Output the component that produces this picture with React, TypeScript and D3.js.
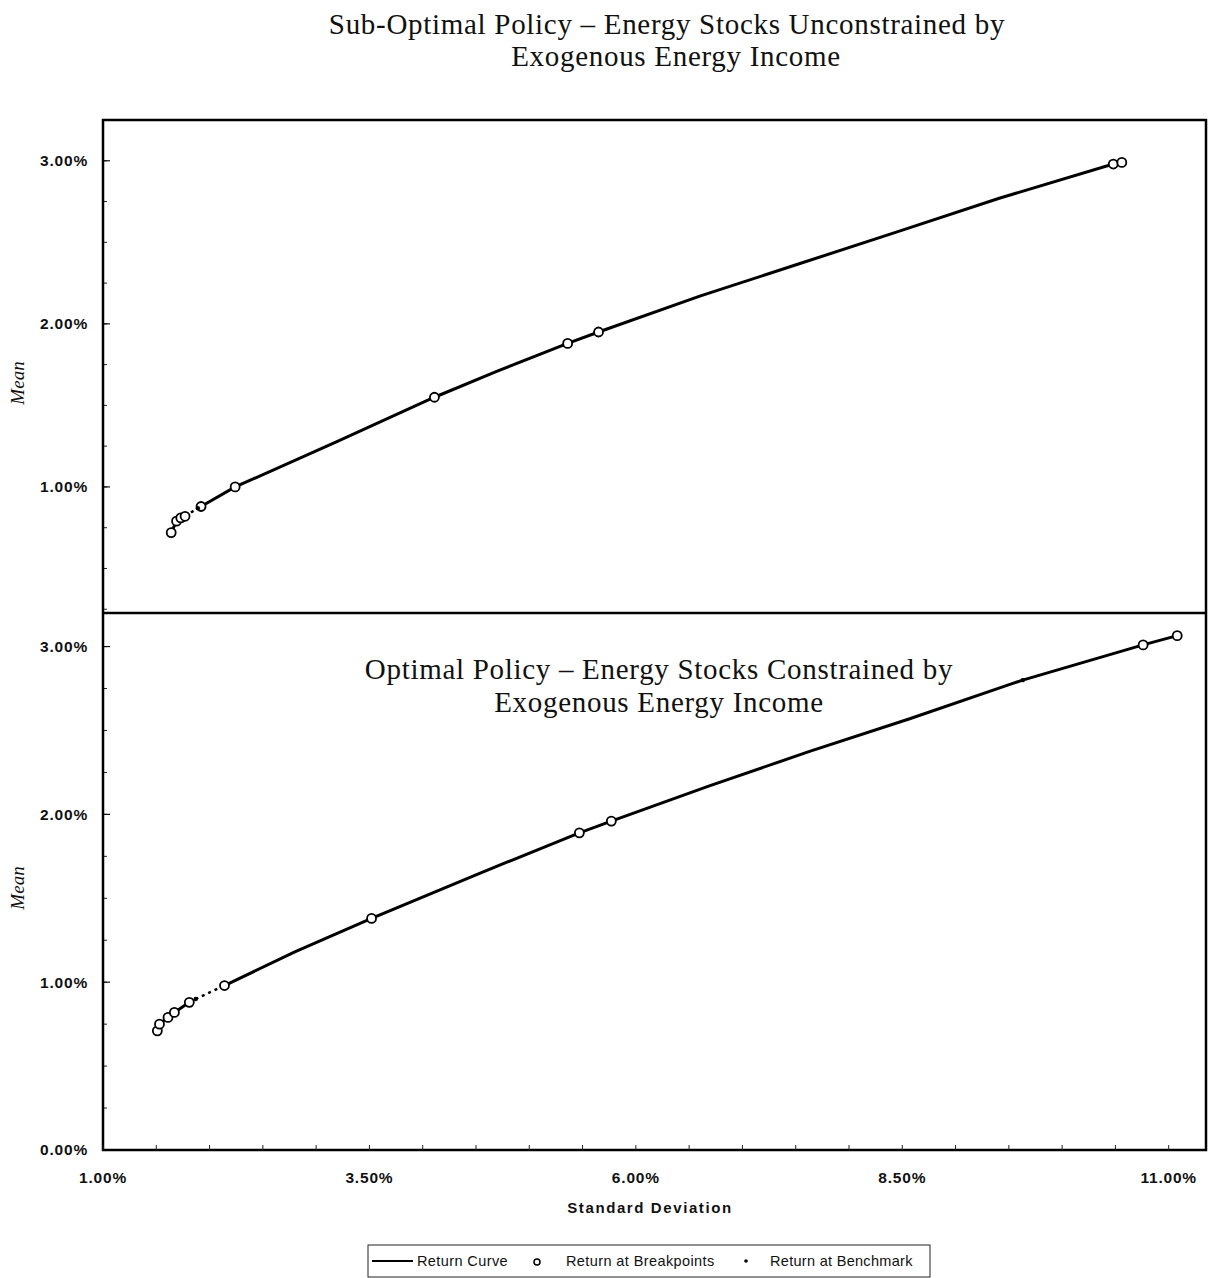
import React from "react";
import * as d3 from "d3";

// Sub-optimal policy (top panel)
const topCurveSd = [1.64, 1.69, 1.73, 1.77, 1.89, 1.92, 2.24, 3.2, 4.11, 4.7, 5.36, 5.65, 6.6, 7.54, 8.48, 9.41, 10.48, 10.56];
const topCurveMean = [0.72, 0.79, 0.81, 0.82, 0.87, 0.88, 1.0, 1.28, 1.55, 1.71, 1.88, 1.95, 2.17, 2.37, 2.57, 2.77, 2.98, 2.99];
const topBreakSd = [1.64, 1.69, 1.73, 1.77, 1.92, 2.24, 4.11, 5.36, 5.65, 10.48, 10.56];
const topBreakMean = [0.72, 0.79, 0.81, 0.82, 0.88, 1.0, 1.55, 1.88, 1.95, 2.98, 2.99];
const topBenchSd = [1.89];
const topBenchMean = [0.87];

// Optimal policy (bottom panel)
const botCurveSd = [1.51, 1.53, 1.61, 1.67, 1.81, 1.87, 2.14, 2.8, 3.52, 4.5, 5.47, 5.77, 6.69, 7.63, 8.57, 9.51, 9.63, 10.76, 11.08];
const botCurveMean = [0.71, 0.75, 0.79, 0.82, 0.88, 0.9, 0.98, 1.18, 1.38, 1.64, 1.89, 1.96, 2.17, 2.375, 2.57, 2.775, 2.8, 3.01, 3.065];
const botBreakSd = [1.51, 1.53, 1.61, 1.67, 1.81, 2.14, 3.52, 5.47, 5.77, 10.76, 11.08];
const botBreakMean = [0.71, 0.75, 0.79, 0.82, 0.88, 0.98, 1.38, 1.89, 1.96, 3.01, 3.065];
const botBenchSd = [1.87, 9.63];
const botBenchMean = [0.9, 2.8];

const xTicks = [1, 3.5, 6, 8.5, 11];
const topYTicks = [1, 2, 3];
const botYTicks = [0, 1, 2, 3];

const fmt = (v: number) => d3.format(".2f")(v) + "%";

const left = 103;
const right = 1206;

const x = d3.scaleLinear().domain([1, 11.35]).range([left, right]);
const yTop = d3.scaleLinear().domain([0.227, 3.25]).range([613, 120]);
const yBot = d3.scaleLinear().domain([0, 3.2]).range([1150, 613]);

const zip = (a: number[], b: number[]) => a.map((v, i) => [v, b[i]] as [number, number]);
const sans = "Arial, 'Liberation Sans', sans-serif";
const serif = "'Liberation Serif', 'Times New Roman', serif";

const Panel = ({ sd, mean, bSd, bMean, kSd, kMean, y, ticks, dashFrom, dashTo }: any) => {
  const pts = zip(sd, mean);
  const line = d3.line<[number, number]>().x(d => x(d[0])).y(d => y(d[1]));
  const solidA = pts.slice(0, dashFrom + 1);
  const dashed = pts.slice(dashFrom, dashTo + 1);
  const solidB = pts.slice(dashTo);
  const [y0, y1] = y.domain();
  const minor = d3.range(Math.ceil(y0 * 4) / 4, y1, 0.25);
  return (
    <g>
      {minor.map((t: number, i: number) => (
        <line key={"m" + i} x1={left} x2={left + 4} y1={y(t)} y2={y(t)} stroke="#222" strokeWidth={1} />
      ))}
      {ticks.map((t: number) => (
        <g key={t}>
          <line x1={left} x2={left + 7} y1={y(t)} y2={y(t)} stroke="#111" strokeWidth={1.2} />
          <text x={88} y={y(t)} dy="0.35em" textAnchor="end" fontFamily={sans}
            fontSize={15.5} fontWeight="bold" letterSpacing={0.8} fill="#111">{fmt(t)}</text>
        </g>
      ))}
      <path d={line(solidA) || ""} fill="none" stroke="#000" strokeWidth={3} />
      <path d={line(dashed) || ""} fill="none" stroke="#000" strokeWidth={2.5} strokeDasharray="3,4" />
      <path d={line(solidB) || ""} fill="none" stroke="#000" strokeWidth={3} />
      {zip(bSd, bMean).map((d, i) => (
        <circle key={"b" + i} cx={x(d[0])} cy={y(d[1])} r={4.5} fill="#fff" stroke="#000" strokeWidth={1.8} />
      ))}
      {zip(kSd, kMean).map((d, i) => (
        <circle key={"k" + i} cx={x(d[0])} cy={y(d[1])} r={2.2} fill="#000" />
      ))}
    </g>
  );
};

export default function App() {
  const xMinor = d3.range(1, 11.35, 0.5);
  const titleSize = 29;
  const titleSpacing = 0.7;
  return (
    <svg width={1221} height={1278} style={{ position: "absolute", left: 0, top: 0 }}>
      <rect width={1221} height={1278} fill="#fff" />
      <text x={667} y={34} textAnchor="middle" fontFamily={serif} fontSize={titleSize} letterSpacing={titleSpacing} fill="#111">
        Sub-Optimal Policy – Energy Stocks Unconstrained by
      </text>
      <text x={676} y={66} textAnchor="middle" fontFamily={serif} fontSize={titleSize} letterSpacing={titleSpacing} fill="#111">
        Exogenous Energy Income
      </text>

      <Panel sd={topCurveSd} mean={topCurveMean} bSd={topBreakSd} bMean={topBreakMean}
        kSd={topBenchSd} kMean={topBenchMean} y={yTop} ticks={topYTicks} dashFrom={3} dashTo={5} />
      <Panel sd={botCurveSd} mean={botCurveMean} bSd={botBreakSd} bMean={botBreakMean}
        kSd={botBenchSd} kMean={botBenchMean} y={yBot} ticks={botYTicks} dashFrom={4} dashTo={6} />

      <text x={659} y={679} textAnchor="middle" fontFamily={serif} fontSize={titleSize} letterSpacing={titleSpacing} fill="#111">
        Optimal Policy – Energy Stocks Constrained by
      </text>
      <text x={659} y={712} textAnchor="middle" fontFamily={serif} fontSize={titleSize} letterSpacing={titleSpacing} fill="#111">
        Exogenous Energy Income
      </text>

      {/* frames */}
      <rect x={left} y={120} width={right - left} height={1150 - 120} fill="none" stroke="#000" strokeWidth={2.5} />
      <line x1={left} x2={right} y1={613} y2={613} stroke="#000" strokeWidth={2.5} />

      {/* x axis */}
      {xMinor.map((t, i) => (
        <line key={i} x1={x(t)} x2={x(t)} y1={1150} y2={1145} stroke="#222" strokeWidth={1} />
      ))}
      {xTicks.map(t => (
        <text key={t} x={x(t)} y={1183} textAnchor="middle" fontFamily={sans} fontSize={15.5} fontWeight="bold" letterSpacing={0.8} fill="#111">
          {fmt(t)}
        </text>
      ))}
      <text x={650} y={1213} textAnchor="middle" fontFamily={sans} fontSize={15} fontWeight="bold" letterSpacing={1.6} fill="#111">
        Standard Deviation
      </text>

      {/* y labels */}
      <text transform="translate(24,383) rotate(-90)" textAnchor="middle" fontFamily={serif} fontStyle="italic" fontSize={19} fill="#111">Mean</text>
      <text transform="translate(24,888) rotate(-90)" textAnchor="middle" fontFamily={serif} fontStyle="italic" fontSize={19} fill="#111">Mean</text>

      {/* legend */}
      <rect x={368} y={1245} width={562} height={32} fill="none" stroke="#222" strokeWidth={1} />
      <line x1={372} x2={413} y1={1261} y2={1261} stroke="#000" strokeWidth={2} />
      <text x={417} y={1266} fontFamily={sans} fontSize={14.5} letterSpacing={0.4} fill="#111">Return Curve</text>
      <circle cx={537} cy={1262} r={3} fill="#fff" stroke="#000" strokeWidth={1.5} />
      <text x={566} y={1266} fontFamily={sans} fontSize={14.5} letterSpacing={0.4} fill="#111">Return at Breakpoints</text>
      <circle cx={746} cy={1261} r={1.8} fill="#000" />
      <text x={770} y={1266} fontFamily={sans} fontSize={14.5} letterSpacing={0.3} fill="#111">Return at Benchmark</text>
    </svg>
  );
}
